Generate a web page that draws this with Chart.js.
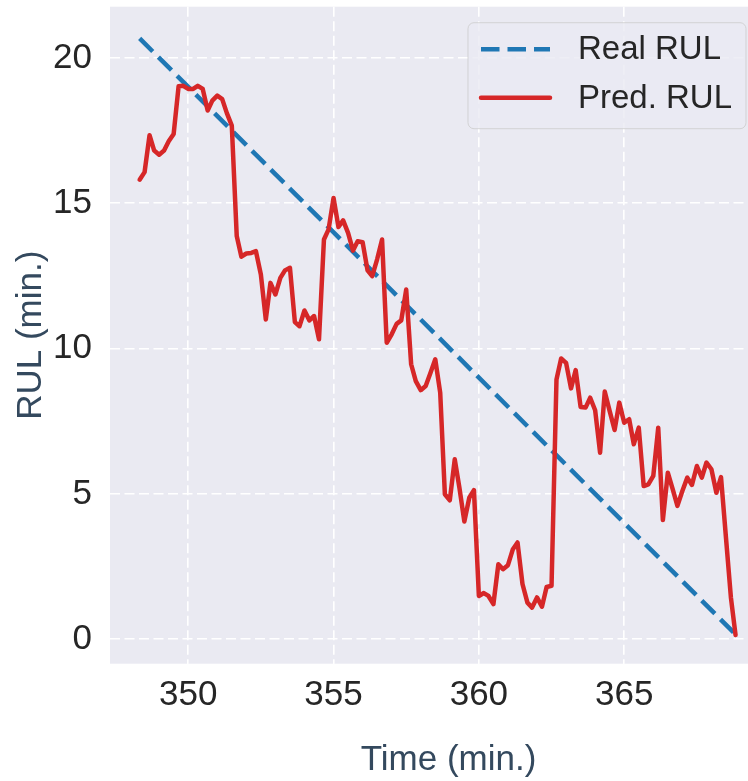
<!DOCTYPE html>
<html lang="en">
<head>
    <meta charset="UTF-8">
    <title>RUL</title>
    <script src="https://cdn.jsdelivr.net/npm/chart.js"></script>
    <style>
        html, body { margin: 0; padding: 0; background: #ffffff; overflow: hidden; }
        .graph { width: 800px; height: 781px; }
    </style>
</head>
<body>
<div class="graph">
    <canvas id="rulChart"></canvas>
</div>
<script>
    // dados do gráfico
    const realTime = [348.33, 368.83];
    const realRul = [20.67, 0.17];

    const predTime = [
        348.33, 348.5, 348.67, 348.83, 349, 349.17, 349.33, 349.5, 349.67, 349.83,
        350, 350.17, 350.33, 350.5, 350.67, 350.83, 351, 351.17, 351.33, 351.5,
        351.67, 351.83, 352, 352.17, 352.33, 352.5, 352.67, 352.83, 353, 353.17,
        353.33, 353.5, 353.67, 353.83, 354, 354.17, 354.33, 354.5, 354.67, 354.83,
        355, 355.17, 355.33, 355.5, 355.67, 355.83, 356, 356.17, 356.33, 356.5,
        356.67, 356.83, 357, 357.17, 357.33, 357.5, 357.67, 357.83, 358, 358.17,
        358.33, 358.5, 358.67, 358.83, 359, 359.17, 359.33, 359.5, 359.67, 359.83,
        360, 360.17, 360.33, 360.5, 360.67, 360.83, 361, 361.17, 361.33, 361.5,
        361.67, 361.83, 362, 362.17, 362.33, 362.5, 362.67, 362.83, 363, 363.17,
        363.33, 363.5, 363.67, 363.83, 364, 364.17, 364.33, 364.5, 364.67, 364.83,
        365, 365.17, 365.33, 365.5, 365.67, 365.83, 366, 366.17, 366.33, 366.5,
        366.67, 366.83, 367, 367.17, 367.33, 367.5, 367.67, 367.83, 368, 368.17,
        368.33, 368.5, 368.67, 368.83
    ];
    const predRul = [
        15.81, 16.07, 17.34, 16.81, 16.67, 16.81, 17.13, 17.38, 19.02, 19.04,
        18.93, 18.93, 19.04, 18.93, 18.19, 18.53, 18.70, 18.58, 18.10, 17.67,
        13.87, 13.16, 13.27, 13.29, 13.35, 12.55, 11.00, 12.26, 11.86, 12.43,
        12.69, 12.78, 10.91, 10.77, 11.31, 10.97, 11.12, 10.32, 13.75, 14.10,
        15.18, 14.18, 14.41, 13.98, 13.37, 13.69, 13.66, 12.69, 12.49, 13.07,
        13.75, 10.20, 10.49, 10.85, 10.97, 12.03, 9.46, 8.88, 8.57, 8.71,
        9.15, 9.63, 8.48, 4.99, 4.78, 6.19, 5.22, 4.05, 4.87, 5.13,
        1.49, 1.59, 1.49, 1.21, 2.58, 2.41, 2.55, 3.10, 3.33, 1.90,
        1.26, 1.09, 1.44, 1.12, 1.80, 1.84, 8.94, 9.66, 9.51, 8.63,
        9.26, 7.99, 7.97, 8.31, 7.88, 6.42, 8.52, 7.85, 7.20, 8.14,
        7.45, 7.57, 6.71, 7.28, 5.27, 5.33, 5.62, 7.28, 4.10, 5.73,
        5.16, 4.59, 5.10, 5.56, 5.31, 5.96, 5.56, 6.08, 5.85, 5.04,
        5.58, 3.50, 1.44, 0.15
    ];

    const xTicks = [350, 355, 360, 365];
    const yTicks = [0, 5, 10, 15, 20];

    const FONTE = '"Liberation Sans", Arial, sans-serif';
    const AZUL = '#1f77b4';
    const VERMELHO = '#d62728';

    // fundo cinza-azulado da área do gráfico
    const fundoPlugin = {
        id: 'fundo',
        beforeDraw(chart) {
            const { ctx, chartArea: a } = chart;
            ctx.save();
            ctx.fillStyle = '#eaeaf2';
            ctx.fillRect(a.left, a.top, a.right - a.left, a.bottom - a.top);
            ctx.restore();
        }
    };

    // legenda desenhada dentro da área do gráfico
    const legendaPlugin = {
        id: 'legendaInterna',
        afterDraw(chart) {
            const { ctx, chartArea: a } = chart;
            const w = 278, h = 106;
            const x = a.right - 41 - w;
            const y = a.top + 16;
            ctx.save();
            ctx.beginPath();
            ctx.roundRect(x, y, w, h, 6);
            ctx.fillStyle = 'rgba(234, 234, 242, 0.8)';
            ctx.fill();
            ctx.strokeStyle = 'rgba(204, 204, 204, 0.8)';
            ctx.lineWidth = 1;
            ctx.stroke();

            ctx.font = '33px ' + FONTE;
            ctx.fillStyle = '#262626';
            ctx.textBaseline = 'middle';
            ctx.textAlign = 'left';

            chart.data.datasets.forEach((ds, i) => {
                const ly = y + 26.5 + i * 48.5;
                ctx.beginPath();
                ctx.strokeStyle = ds.borderColor;
                ctx.lineWidth = ds.borderWidth;
                ctx.setLineDash(ds.borderDash || []);
                ctx.lineCap = ds.borderDash ? 'butt' : 'round';
                ctx.moveTo(x + 13, ly);
                ctx.lineTo(x + 82, ly);
                ctx.stroke();
                ctx.setLineDash([]);
                ctx.fillText(ds.label, x + 110, ly + 1);
            });
            ctx.restore();
        }
    };

    const ctx = document.getElementById('rulChart').getContext('2d');

    const myChart = new Chart(ctx, {
        type: 'line',
        data: {
            datasets: [{
                label: 'Real RUL',
                data: realTime.map((t, i) => ({ x: t, y: realRul[i] })),
                borderColor: AZUL,
                borderWidth: 4.5,
                borderDash: [18.5, 8],
                borderCapStyle: 'butt',
                pointRadius: 0,
                tension: 0,
                order: 1
            }, {
                label: 'Pred. RUL',
                data: predTime.map((t, i) => ({ x: t, y: predRul[i] })),
                borderColor: VERMELHO,
                borderWidth: 4.5,
                borderJoinStyle: 'round',
                borderCapStyle: 'round',
                pointRadius: 0,
                tension: 0,
                order: 0
            }]
        },
        options: {
            responsive: true,
            maintainAspectRatio: false,
            animation: false,
            layout: {
                padding: { top: 6.7, right: 13, left: 0, bottom: 0 }
            },
            plugins: {
                legend: { display: false },
                tooltip: { enabled: false }
            },
            scales: {
                x: {
                    type: 'linear',
                    min: 347.31,
                    max: 370.6,
                    afterBuildTicks: (scale) => { scale.ticks = xTicks.map(v => ({ value: v })); },
                    afterFit: (scale) => {
                        scale.height = 117.3;
                        scale.paddingLeft = 0;
                        scale.paddingRight = 0;
                    },
                    ticks: {
                        color: '#262626',
                        padding: 11,
                        font: { family: FONTE, size: 35 }
                    },
                    grid: {
                        color: '#ffffff',
                        lineWidth: 1.6,
                        drawTicks: false
                    },
                    border: { display: false, dash: [10, 4.5] },
                    title: {
                        display: true,
                        text: 'Time (min.)',
                        color: '#34495e',
                        padding: { top: 0, bottom: 0 },
                        font: { family: FONTE, size: 35 }
                    }
                },
                y: {
                    type: 'linear',
                    min: -0.84,
                    max: 21.76,
                    afterBuildTicks: (scale) => { scale.ticks = yTicks.map(v => ({ value: v })); },
                    afterFit: (scale) => {
                        scale.width = 110;
                        scale.paddingTop = 0;
                        scale.paddingBottom = 0;
                    },
                    ticks: {
                        color: '#262626',
                        padding: 18,
                        font: { family: FONTE, size: 35 }
                    },
                    grid: {
                        color: '#ffffff',
                        lineWidth: 1.6,
                        drawTicks: false
                    },
                    border: { display: false, dash: [10, 4.5] },
                    title: {
                        display: true,
                        text: 'RUL (min.)',
                        color: '#34495e',
                        padding: { top: 10, bottom: 0 },
                        font: { family: FONTE, size: 35 }
                    }
                }
            }
        },
        plugins: [fundoPlugin, legendaPlugin]
    });
</script>
</body>
</html>
